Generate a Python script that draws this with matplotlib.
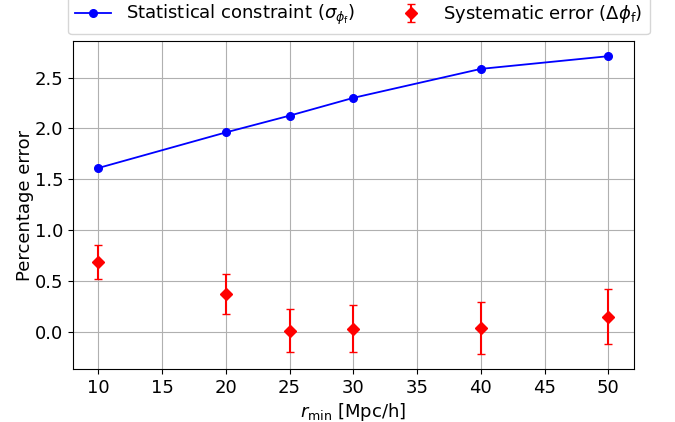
import matplotlib
matplotlib.use("Agg")
import matplotlib.pyplot as plt
import numpy as np

# minimum separation scales
r_min = [10, 20, 25, 30, 40, 50]

# statistical constraint on phi_f (percent)
sigma_stat = [1.61, 1.96, 2.125, 2.30, 2.585, 2.71]

# systematic shift and its uncertainty (percent)
sys_err = [0.685, 0.37, 0.01, 0.03, 0.036, 0.145]
sys_err_unc = [0.163, 0.197, 0.21, 0.23, 0.26, 0.27]

fig = plt.figure(figsize=(6.75, 4.22), dpi=100)
ax = fig.add_axes([0.108, 0.125, 0.831, 0.778])

ax.plot(r_min, sigma_stat, "o-", color="blue", markersize=5.5, lw=1.3,
        label=r"Statistical constraint ($\sigma_{\phi_{\rm f}}$)")
ax.errorbar(r_min, sys_err, yerr=sys_err_unc, fmt="D", color="red",
            markersize=6, capsize=3, elinewidth=1.5,
            label=r"Systematic error ($\Delta\phi_{\rm f}$)")

ax.set_xlim(8, 52)
ax.set_ylim(-0.37, 2.86)
ax.set_xticks(np.arange(10, 51, 5))
ax.set_yticks(np.arange(0, 2.6, 0.5))
ax.grid(True)
ax.tick_params(labelsize=13)
ax.set_xlabel(r"$r_{\rm min}$ [Mpc/h]", fontsize=13, labelpad=3)
ax.set_ylabel("Percentage error", fontsize=13, labelpad=0)

ax.legend(loc="upper center", bbox_to_anchor=(0.51, 1.165), ncol=2,
          fontsize=13, columnspacing=2.1)

fig.savefig("out.png", dpi=100)
